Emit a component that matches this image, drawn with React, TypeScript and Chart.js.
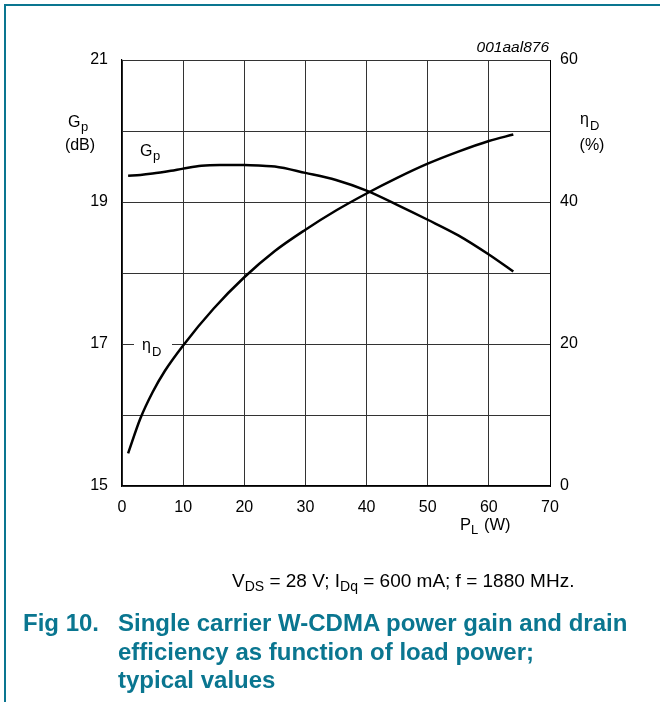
import React, { useEffect, useRef } from "react";
import { Chart, registerables } from "chart.js";

Chart.register(...registerables);

// Load power P_L (W) for each curve
const gainPower = [1, 3, 5, 8, 10, 13, 16, 20, 23, 25, 30, 35, 40, 45, 50, 55, 60, 64];
// Power gain Gp (dB) — left axis
const gainDb = [19.37, 19.38, 19.40, 19.44, 19.47, 19.51, 19.52, 19.52, 19.51, 19.50, 19.41, 19.31, 19.16, 18.96, 18.75, 18.53, 18.26, 18.02];

const effPower = [1, 3, 5, 7, 10, 15, 20, 25, 30, 35, 40, 45, 50, 55, 60, 64];
// Drain efficiency ηD (%) — right axis
const effPct = [4.6, 9.5, 13.2, 16.2, 19.8, 25.0, 29.4, 33.1, 36.1, 38.8, 41.2, 43.4, 45.4, 47.1, 48.6, 49.5];

// Tick settings
const xTicks = { min: 0, max: 70, step: 10 };
const gainTicks = { min: 15, max: 21, step: 1 };
const effTicks = { min: 0, max: 60, step: 20 };

const FONT = '"Liberation Sans", Arial, sans-serif';
const TEAL = "#0a7690";

const annotations = {
  id: "annotations",
  afterDatasetsDraw(chart: any) {
    const ctx = chart.ctx as CanvasRenderingContext2D;
    ctx.save();
    ctx.fillStyle = "#000";
    ctx.textBaseline = "alphabetic";
    const t = (s: string, x: number, y: number, size: number, align: CanvasTextAlign = "left", style = "") => {
      ctx.font = `${style} ${size}px ${FONT}`;
      ctx.textAlign = align;
      ctx.fillText(s, x, y);
    };
    // id code
    t("001aal876", 549, 52, 15.5, "right", "italic");
    // left axis title
    t("G", 68, 127, 16);
    t("p", 81, 131, 13);
    t("(dB)", 80, 150, 16, "center");
    // right axis title
    t("η", 580, 124, 16);
    t("D", 590, 130, 13);
    t("(%)", 592, 150, 16, "center");
    // x axis title
    t("P", 460, 530, 16.5);
    t("L", 471, 534, 13);
    t("(W)", 484, 530, 16.5);
    // curve labels
    t("G", 140, 156, 16);
    t("p", 153, 160, 13);
    ctx.fillStyle = "#fff";
    ctx.fillRect(134, 337, 38, 18);
    ctx.fillStyle = "#000";
    t("η", 142, 350, 16);
    t("D", 152, 356, 13);
    ctx.restore();
  },
};

export default function App() {
  const ref = useRef<HTMLCanvasElement | null>(null);

  useEffect(() => {
    if (!ref.current) return;
    const chart = new Chart(ref.current, {
      type: "line",
      data: {
        datasets: [
          {
            label: "Gp",
            data: gainPower.map((x, i) => ({ x, y: gainDb[i] })),
            yAxisID: "y",
            borderColor: "#000",
            borderWidth: 2.5,
            pointRadius: 0,
            cubicInterpolationMode: "monotone",
            fill: false,
          },
          {
            label: "ηD",
            data: effPower.map((x, i) => ({ x, y: effPct[i] })),
            yAxisID: "y1",
            borderColor: "#000",
            borderWidth: 2.5,
            pointRadius: 0,
            cubicInterpolationMode: "monotone",
            fill: false,
          },
        ],
      },
      options: {
        animation: false,
        responsive: false,
        devicePixelRatio: 1,
        layout: { padding: { top: 60, left: 0, right: 0, bottom: 0 } },
        plugins: { legend: { display: false }, tooltip: { enabled: false }, title: { display: false } },
        scales: {
          x: {
            type: "linear",
            min: xTicks.min,
            max: xTicks.max,
            ticks: { stepSize: xTicks.step, color: "#000", font: { size: 16, family: FONT }, padding: 12, maxRotation: 0 },
            grid: { color: "#333", lineWidth: 1, drawTicks: false },
            border: { color: "#000", width: 1.2 },
            afterFit: (s: any) => { s.height = 702 - 486; },
          },
          y: {
            position: "left",
            min: gainTicks.min,
            max: gainTicks.max,
            ticks: {
              stepSize: gainTicks.step,
              color: "#000",
              font: { size: 16, family: FONT },
              padding: 14,
              callback: (v: any) => (Number(v) % 2 === 1 ? String(v) : ""),
            },
            grid: { color: "#333", lineWidth: 1, drawTicks: false },
            border: { color: "#000", width: 1.2 },
            afterFit: (s: any) => { s.width = 122; },
          },
          y1: {
            position: "right",
            min: effTicks.min,
            max: effTicks.max,
            ticks: { stepSize: effTicks.step, color: "#000", font: { size: 16, family: FONT }, padding: 10 },
            grid: { drawOnChartArea: false, drawTicks: false },
            border: { color: "#000", width: 1 },
            afterFit: (s: any) => { s.width = 660 - 550; },
          },
        },
      },
      plugins: [annotations],
    });
    return () => chart.destroy();
  }, []);

  const sub: React.CSSProperties = { fontSize: 14, position: "relative", top: 4 };

  return (
    <div style={{ position: "absolute", left: 0, top: 0, width: 660, height: 702, background: "#fff", overflow: "hidden", fontFamily: FONT }}>
      <div style={{ position: "absolute", left: 4, top: 4, width: 660, height: 720, borderTop: `2px solid ${TEAL}`, borderLeft: `2px solid ${TEAL}` }} />
      <canvas ref={ref} width={660} height={702} style={{ position: "absolute", left: 0, top: 0, width: 660, height: 702 }} />
      <div style={{ position: "absolute", left: 232, top: 571, fontSize: 19, lineHeight: "20px", color: "#000", whiteSpace: "nowrap" }}>
        V<span style={sub}>DS</span> = 28 V; I<span style={sub}>Dq</span> = 600 mA; f = 1880 MHz.
      </div>
      <div style={{ position: "absolute", left: 23, top: 609, fontSize: 24, lineHeight: "28.5px", fontWeight: "bold", color: TEAL, whiteSpace: "nowrap" }}>
        Fig 10.
      </div>
      <div style={{ position: "absolute", left: 118, top: 609, fontSize: 24, lineHeight: "28.5px", fontWeight: "bold", color: TEAL, whiteSpace: "nowrap" }}>
        Single carrier W-CDMA power gain and drain
        <br />
        efficiency as function of load power;
        <br />
        typical values
      </div>
    </div>
  );
}
